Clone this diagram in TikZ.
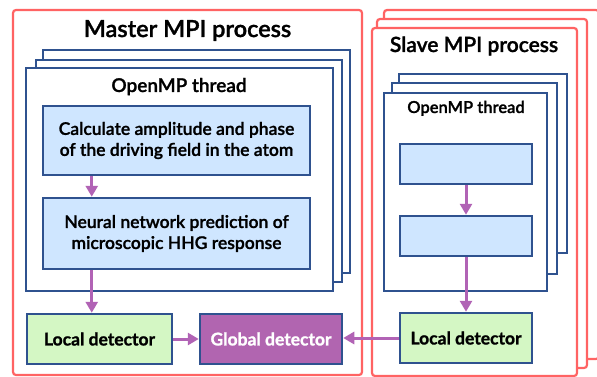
\documentclass[tikz,border=0pt]{standalone}
\usepackage{fontspec}
\setmainfont{Lato}
\newfontfamily\latosemi{Lato Semibold}[FakeBold=1.2]
\newfontfamily\latobold{Lato Bold}[FakeBold=1.2]
\usepackage{xcolor}
\usepackage{tikz}
\usetikzlibrary{arrows.meta, calc}

\definecolor{mpired}{RGB}{255,99,99}
\definecolor{ompblue}{RGB}{47,82,143}
\definecolor{taskfill}{RGB}{207,230,255}
\definecolor{localfill}{RGB}{212,247,196}
\definecolor{globalfill}{RGB}{177,101,176}
\definecolor{flowpurple}{RGB}{177,99,181}

\tikzset{
    mpibox/.style={draw=mpired, line width=2.2pt, rounded corners=3pt, fill=white},
    threadbox/.style={draw=ompblue, line width=2.5pt, fill=white},
    taskbox/.style={draw=ompblue, line width=2.5pt, fill=taskfill, align=center,
        inner sep=0pt, font=\latosemi\fontsize{17.5}{21}\selectfont},
    detbox/.style={draw=ompblue, line width=2.5pt, inner sep=0pt,
        font=\latobold\fontsize{17.5}{20}\selectfont},
    flow/.style={draw=flowpurple, line width=3pt, -{Triangle[length=11pt,width=12pt]}}
}

\begin{document}
\begin{tikzpicture}[x=1pt, y=-1pt]
    \useasboundingbox (0,0) rectangle (597,377);

    % master process
    \node[mpibox, minimum width=349pt, minimum height=365pt] (master) at (187.5,192.5) {};
    \node[anchor=base, font=\latosemi\fontsize{23.5}{26}\selectfont] (mtitle) at (187.5,37) {Master MPI process};

    % master threads (two copies behind)
    \draw[threadbox] (43,50) rectangle (350,273);
    \draw[threadbox] (36,60) rectangle (342,282);
    \node[threadbox, minimum width=307pt, minimum height=223pt] (mthread) at (179.5,179.5) {};
    \node[anchor=base, font=\latosemi\fontsize{19}{22}\selectfont] (mthtitle) at (179,92) {OpenMP thread};

    \node[taskbox, minimum width=267pt, minimum height=69pt] (calc) at (176.5,140.5)
        {Calculate amplitude and phase\\of the driving field in the atom};
    \node[taskbox, minimum width=267pt, minimum height=71pt] (nn) at (176.5,233.5)
        {Neural network prediction of\\microscopic HHG response};

    \node[detbox, fill=localfill, minimum width=145pt, minimum height=50pt] (mlocal) at (99.5,339) {Local detector};
    \node[detbox, fill=globalfill, text=white, minimum width=142pt, minimum height=50pt] (global) at (271,339) {Global detector};

    % slave processes
    \draw[mpibox] (384,10) rectangle (599,359);
    \draw[mpibox] (377,19) rectangle (587,368);
    \node[mpibox, minimum width=205pt, minimum height=348pt] (slave) at (474.5,202) {};
    \node[anchor=base, font=\latosemi\fontsize{21}{24}\selectfont] (stitle) at (474,52) {Slave MPI process};

    \draw[threadbox] (399,74) rectangle (567,253);
    \draw[threadbox] (392,83) rectangle (557,274);
    \node[threadbox, minimum width=163pt, minimum height=198pt] (sthread) at (465.5,192) {};
    \node[anchor=base, font=\latosemi\fontsize{16.5}{19}\selectfont] (sthtitle) at (466,113) {OpenMP thread};

    \node[taskbox, minimum width=132pt, minimum height=40pt] (scalc) at (466,164) {};
    \node[taskbox, minimum width=132pt, minimum height=40pt] (snn) at (466,236) {};
    \node[detbox, fill=localfill, minimum width=132pt, minimum height=50pt] (slocal) at (466,338) {Local detector};

    % arrows
    \draw[flow] ($(calc.south west)+(50,0)$) -- ($(nn.north west)+(50,0)$);
    \draw[flow] ($(nn.south west)+(50,0)$) -- ($(mlocal.north west)+(66,0)$);
    \draw[flow] (mlocal.east) -- (global.west);
    \draw[flow] (scalc.south) -- (snn.north);
    \draw[flow] (snn.south) -- (slocal.north);
    \draw[flow] (slocal.west) -- (slocal.west -| global.east);
\end{tikzpicture}
\end{document}
